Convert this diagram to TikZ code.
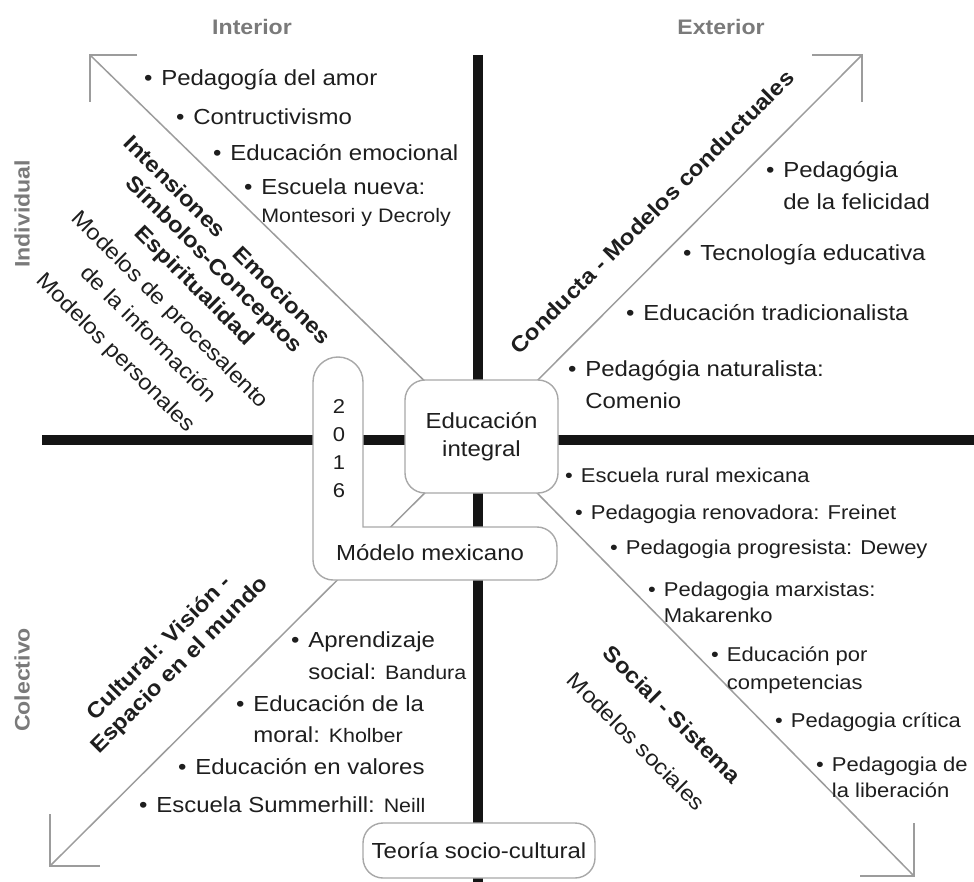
\documentclass[tikz,border=0pt]{standalone}
\usepackage{fontspec}
\setmainfont{Liberation Sans}[FakeStretch=1.1]
\usetikzlibrary{backgrounds}
\definecolor{ink}{HTML}{1E1E1E}
\definecolor{diag}{HTML}{9C9C9C}
\definecolor{boxln}{HTML}{A8A8A8}
\definecolor{hdr}{HTML}{7A7A7A}
\definecolor{barcol}{HTML}{141414}
\newcommand\nm[1]{{\fontsize{19.5}{19.5}\selectfont #1}}
\newcommand\bl{\textbullet\hspace{0.4em}}
\newcommand\ind{\hphantom{\textbullet\hspace{0.4em}}}
\begin{document}
\begin{tikzpicture}[x=1pt,y=-1pt,
 txt/.style={inner sep=0, text=ink, align=left, anchor=base west, font=\fontsize{21.8}{31}\selectfont},
 lrt/.style={txt, font=\fontsize{20}{27}\selectfont},
 lab/.style={inner sep=0, text=ink, font=\bfseries\fontsize{21.8}{26}\selectfont},
 rlab/.style={inner sep=0, text=ink, font=\fontsize{21.8}{26}\selectfont},
 hd/.style={inner sep=0, text=hdr, font=\bfseries\fontsize{21}{24}\selectfont},
 rbox/.style={draw=boxln, line width=1.4, fill=white, rounded corners=20, text=ink, align=center, font=\fontsize{21.8}{28}\selectfont, inner sep=0},
 thickbar/.style={draw=barcol, line width=10},
 diagline/.style={draw=diag, line width=1.5, line join=miter},
]
\useasboundingbox (0,0) rectangle (974,882);

% coordinates
\coordinate (hL) at (42,440);
\coordinate (hR) at (974,440);
\coordinate (vT) at (478,55);
\coordinate (vB) at (478,882);
\coordinate (tUL) at (90,55);
\coordinate (tUR) at (862,55);
\coordinate (tLL) at (50,866);
\coordinate (tLR) at (914,876);

% central boxes
\node[rbox, minimum width=153, minimum height=113] (edu) at (481.5,436.5) {Educación\\integral};
\node[rbox, minimum width=232, minimum height=55] (teo) at (479,850.5) {Teoría socio-cultural};

% L-shaped 2016 / Modelo mexicano box
\path[draw=boxln, line width=1.4, fill=white]
  (313,382) .. controls (313,368.2) and (324.2,357) .. (338,357)
  .. controls (351.8,357) and (363,368.2) .. (363,382)
  -- (363,527) -- (537,527)
  .. controls (548,527) and (557,536) .. (557,547)
  -- (557,560)
  .. controls (557,571) and (548,580) .. (537,580)
  -- (333,580)
  .. controls (322,580) and (313,571) .. (313,560) -- cycle;
\node[inner sep=0, text=ink, align=center, font=\fontsize{20}{28}\selectfont] (yr) at (339,449) {2\\0\\1\\6};
\node[inner sep=0, text=ink, font=\fontsize{21.8}{26}\selectfont] (mod) at (430,553) {Módelo mexicano};

\begin{pgfonlayer}{background}
  \draw[thickbar] (hL) -- (hR);
  \draw[thickbar] (vT) -- (vB);
  \draw[diagline] (tUL) -- (edu.center);
  \draw[diagline] (tUR) -- (edu.center);
  \draw[diagline] (tLL) -- (edu.center);
  \draw[diagline] (tLR) -- (edu.center);
\end{pgfonlayer}
% open corner arrowheads
\draw[diagline] (tUL) ++(47,0) -- (tUL) -- ++(0,47);
\draw[diagline] (tUR) ++(-50,0) -- (tUR) -- ++(0,47);
\draw[diagline] (tLL) ++(0,-52) -- (tLL) -- ++(50,0);
\draw[diagline] (tLR) ++(0,-53) -- (tLR) -- ++(-54,0);

% headers
\node[hd] (hint) at (252,27) {Interior};
\node[hd] (hext) at (721,27) {Exterior};
\node[hd, rotate=90] (hind) at (22,214) {Individual};
\node[hd, rotate=90] (hcol) at (22,680) {Colectivo};

% rotated labels
\node[lab, rotate=-45] (int) at (175.5,186.5) {Intensiones};
\node[lab, rotate=-45] (emo) at (282.5,295) {Emociones};
\node[lab, rotate=-45] (sim) at (213.5,265) {Símbolos-Conceptos};
\node[lab, rotate=-45] (esp) at (194,286.5) {Espiritualidad};
\node[rlab, rotate=-45] (mproc) at (169.5,310.5) {Modelos de procesalento};
\node[rlab, rotate=-45] (dlai) at (149.5,333.5) {de la información};
\node[rlab, rotate=-45] (mper) at (115,353.5) {Modelos personales};
\node[lab, rotate=45] (cond) at (652,212) {Conducta - Modelos conductuales};
\node[lab, rotate=45] (cult) at (158.5,647) {Cultural: Visión -};
\node[lab, rotate=45] (espm) at (180,665.5) {Espacio en el mundo};
\node[lab, rotate=-45] (soc) at (672.5,714.5) {Social - Sistema};
\node[rlab, rotate=-45] (msoc) at (636.5,741.5) {Modelos sociales};

% upper-left list
\node[txt] (ul1) at (144,86) {\bl Pedagogía del amor};
\node[txt] (ul2) at (176,125) {\bl Contructivismo};
\node[txt] (ul3) at (213,161) {\bl Educación emocional};
\node[txt, font=\fontsize{21.8}{28}\selectfont] (ul4) at (244,223) {\bl Escuela nueva:\\\ind\nm{Montesori y Decroly}};

% upper-right list
\node[txt, font=\fontsize{21.8}{32}\selectfont] (ur1) at (766,210) {\bl Pedagógia\\\ind de la felicidad};
\node[txt] (ur2) at (683,261) {\bl Tecnología educativa};
\node[txt] (ur3) at (626,321) {\bl Educación tradicionalista};
\node[txt, font=\fontsize{21.8}{32}\selectfont] (ur4) at (568,408) {\bl Pedagógia naturalista:\\\ind Comenio};

% lower-left list
\node[txt, font=\fontsize{21.8}{32}\selectfont] (ll1) at (291,679) {\bl Aprendizaje\\\ind social: \nm{Bandura}};
\node[txt] (ll2) at (236,742) {\bl Educación de la\\\ind moral: \nm{Kholber}};
\node[txt] (ll3) at (178,774) {\bl Educación en valores};
\node[txt] (ll4) at (139,812) {\bl Escuela Summerhill: \nm{Neill}};

% lower-right list
\node[lrt] (lr1) at (565,482) {\bl Escuela rural mexicana};
\node[lrt] (lr2) at (575,519) {\bl Pedagogia renovadora: Freinet};
\node[lrt] (lr3) at (610,554) {\bl Pedagogia progresista: Dewey};
\node[lrt, font=\fontsize{20}{26}\selectfont] (lr4) at (648,622) {\bl Pedagogia marxistas:\\\ind Makarenko};
\node[lrt, font=\fontsize{20}{28}\selectfont] (lr5) at (711,689) {\bl Educación por\\\ind competencias};
\node[lrt] (lr6) at (775,727) {\bl Pedagogia crítica};
\node[lrt, font=\fontsize{20}{26}\selectfont] (lr7) at (816,797) {\bl Pedagogia de\\\ind la liberación};
\end{tikzpicture}
\end{document}
